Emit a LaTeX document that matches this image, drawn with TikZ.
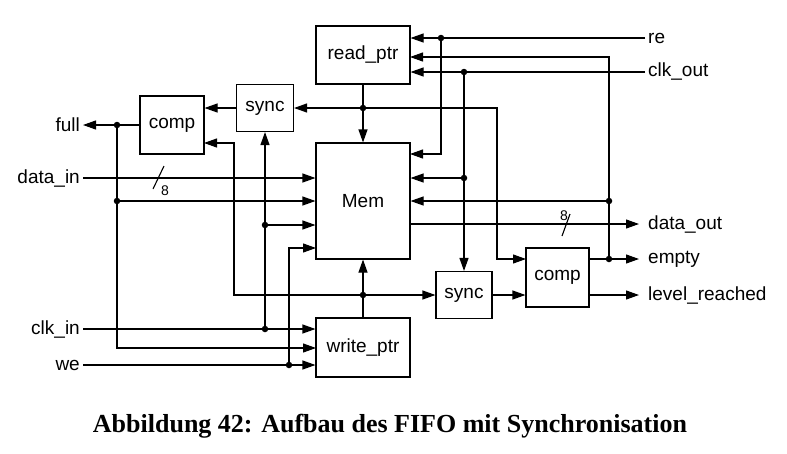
\documentclass[tikz,border=0pt]{standalone}
\usepackage{fontspec}
\setmainfont{Liberation Sans}
\newfontfamily\capfont{Liberation Serif}
\usetikzlibrary{arrows.meta, positioning, calc}

\begin{document}
\begin{tikzpicture}[x=1pt, y=-1pt, font=\fontsize{19}{22}\selectfont]
    \tikzstyle{block} = [rectangle, draw, line width=1.1pt, inner sep=0pt]
    \tikzstyle{line} = [draw, line width=1.1pt]
    \tikzstyle{arr} = [line, -{Triangle[length=13pt, width=9pt]}]
    \tikzstyle{dot} = [circle, fill, inner sep=0pt, minimum size=6.5pt]
    \tikzstyle{pin} = [inner sep=3pt]
    \tikzstyle{bus} = [inner sep=0pt, font=\fontsize{14}{16}\selectfont]

    \useasboundingbox (0,0) rectangle (787,453);

    % blocks
    \node [block, minimum width=94pt, minimum height=58pt] (rp) at (363,55) {read\_ptr};
    \node [block, minimum width=94pt, minimum height=116pt] (Mem) at (363,201) {Mem};
    \node [block, minimum width=94pt, minimum height=59pt] (wp) at (363,347.5) {write\_ptr};
    \node [block, minimum width=57pt, minimum height=47pt] (syncL) at (265,108) {sync};
    \node [block, minimum width=64pt, minimum height=58pt] (cmpL) at (172,125) {comp};
    \node [block, minimum width=56pt, minimum height=47pt] (syncR) at (464,295) {sync};
    \node [block, minimum width=63pt, minimum height=59pt] (cmpR) at (557.5,277.5) {comp};
    %
    % signals
    \node [pin, anchor=east] (full) at (83,125) {full};
    \node [pin, anchor=east] (din) at (83,178) {data\_in};
    \node [pin, anchor=east] (clkin) at (83,329) {clk\_in};
    \node [pin, anchor=east] (we) at (83,365) {we};
    \node [pin, anchor=west] (re) at (645,38) {re};
    \node [pin, anchor=west] (clkout) at (645,72) {clk\_out};
    \node [pin, anchor=west] (dout) at (645,224) {data\_out};
    \node [pin, anchor=west] (empty) at (645,259) {empty};
    \node [pin, anchor=west] (lvl) at (645,295) {level\_reached};
    %
    % ports and bends
    \coordinate (rpin) at (410,57);
    \coordinate (mein) at (410,154);
    \coordinate (mwin) at (316,248);
    \coordinate (wpin) at (316,348);
    \coordinate (clin) at (204,143);
    \coordinate (clbend) at (234,143);
    \coordinate (crin) at (526,259);
    \coordinate (crbend) at (497,259);
    %
    % junctions
    \node [dot] (dfull) at (117,125) {};
    \node [dot] (dfm) at (117,201) {};
    \node [dot] (dclk) at (265,329) {};
    \node [dot] (dclkm) at (265,225) {};
    \node [dot] (dwe) at (289,365) {};
    \node [dot] (dwp) at (363,295) {};
    \node [dot] (drp) at (363,108) {};
    \node [dot] (dre) at (441,38) {};
    \node [dot] (dco) at (464,72) {};
    \node [dot] (dcom) at (464,178) {};
    \node [dot] (dem) at (609,259) {};
    \node [dot] (demm) at (609,201) {};
    %
    % left side
    \path [arr] (cmpL.west) -- (full.east);
    \path [arr] (din.east) -- (Mem.west |- din);
    \path [arr] (dfull) |- (wpin);
    \path [arr] (dfm) -- (Mem.west |- dfm);
    \path [arr] (clkin.east) -- (wp.west |- clkin);
    \path [arr] (dclk) -- (syncL.south);
    \path [arr] (dclkm) -- (Mem.west |- dclkm);
    \path [arr] (we.east) -- (wp.west |- we);
    \path [arr] (dwe) |- (mwin);
    \path [arr] (syncL.west) -- (cmpL.east |- syncL.west);
    %
    % pointers
    \path [arr] (wp.north) -- (Mem.south);
    \path [arr] (dwp) -- (syncR.west);
    \path [arr] (dwp) -| (clbend) -- (clin);
    \path [arr] (rp.south) -- (Mem.north);
    \path [arr] (drp) -- (syncL.east |- drp);
    \path [arr] (drp) -| (crbend) -- (crin);
    %
    % right side
    \path [arr] (re.west) -- (rp.east |- re.west);
    \path [arr] (dre) |- (mein);
    \path [arr] (clkout.west) -- (rp.east |- clkout.west);
    \path [arr] (dco) -- (syncR.north);
    \path [arr] (dcom) -- (Mem.east |- dcom);
    \path [arr] (syncR.east) -- (cmpR.west |- syncR.east);
    \path [arr, shorten >=6pt] (cmpR.east |- empty.west) -- (empty.west);
    \path [arr] (dem) |- (rpin);
    \path [arr] (demm) -- (Mem.east |- demm);
    \path [arr, shorten >=6pt] (Mem.east |- dout.west) -- (dout.west);
    \path [arr, shorten >=6pt] (cmpR.east |- lvl.west) -- (lvl.west);
    %
    % bus widths
    \path [line] (153,189) -- (164,166);
    \node [bus] (w8in) at (165,191) {8};
    \path [line] (562,236) -- (570,214);
    \node [bus] (w8out) at (564,216) {8};
    %
    \node [font=\capfont\bfseries\fontsize{26}{30}\selectfont] (cap) at (390,426)
        {Abbildung 42: Aufbau des FIFO mit Synchronisation};
\end{tikzpicture}
\end{document}
